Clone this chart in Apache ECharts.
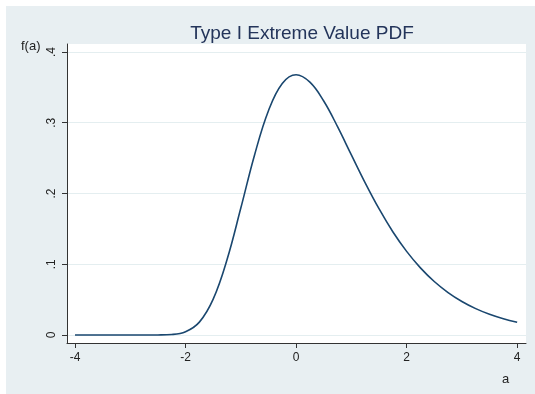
<!DOCTYPE html>
<html>
<head>
<meta charset="utf-8">
<script src="https://cdn.jsdelivr.net/npm/echarts@6/dist/echarts.min.js"></script>
<style>
  body { margin: 0; background: #fff; }
  #panel { position: absolute; left: 6px; top: 6px; width: 529px; height: 388px; background: #e8eff2; }
  #chart { position: absolute; left: 0; top: 0; width: 535px; height: 394px; }
</style>
</head>
<body>
<div id="panel"></div>
<div id="chart"></div>
<script>
// values, step .25
const aVals = [-4, -3.75, -3.5, -3.25, -3, -2.75, -2.5, -2.25, -2, -1.75, -1.5, -1.25, -1, -0.75, -0.5, -0.25,
  0, 0.25, 0.5, 0.75, 1, 1.25, 1.5, 1.75, 2, 2.25, 2.5, 2.75, 3, 3.25, 3.5, 3.75, 4]
const fVals = [0, 0, 0, 0, 0, 0, 0.0001, 0.0007, 0.0046, 0.0182, 0.0507, 0.1064, 0.1794, 0.2549, 0.3170, 0.3556,
  0.3679, 0.3574, 0.3307, 0.2945, 0.2546, 0.2151, 0.1785, 0.1460, 0.1182, 0.0949, 0.0756, 0.0600, 0.0474, 0.0373, 0.0293, 0.0230, 0.0180]

const xTicks = [-4, -2, 0, 2, 4]
const yTicks = [0, 0.1, 0.2, 0.3, 0.4]
const yTickLabels = ['0', '.1', '.2', '.3', '.4']

const myChart = echarts.init(document.getElementById('chart'))

const font = '"Liberation Sans", Arial, sans-serif'

const option = {
  backgroundColor: 'transparent',
  animation: false,
  title: [
    {
      text: 'Type I Extreme Value PDF',
      left: 297, top: 19, textAlign: 'center',
      textStyle: { fontFamily: font, fontSize: 19, fontWeight: 'normal', color: '#23345a' }
    },
    {
      text: 'f(a)', left: 16, top: 35,
      textStyle: { fontFamily: font, fontSize: 13, fontWeight: 'normal', color: '#222' }
    },
    {
      text: 'a', left: 497, top: 368,
      textStyle: { fontFamily: font, fontSize: 13, fontWeight: 'normal', color: '#222' }
    }
  ],
  grid: {
    left: 67, right: 9, top: 44, bottom: 51,
    show: true, backgroundColor: '#fff', borderWidth: 0
  },
  xAxis: {
    type: 'value',
    min: -4.145, max: 4.16,
    axisLine: { onZero: false, lineStyle: { color: '#333', width: 1 } },
    axisTick: { customValues: xTicks, length: 5, lineStyle: { color: '#333' } },
    axisLabel: {
      customValues: xTicks, margin: 9,
      fontFamily: font, fontSize: 12, color: '#222'
    },
    splitLine: { show: false }
  },
  yAxis: {
    type: 'value',
    min: -0.0113, max: 0.4113,
    axisLine: { show: true, onZero: false, lineStyle: { color: '#333', width: 1 } },
    axisTick: { show: true, customValues: yTicks, length: 5, lineStyle: { color: '#333' } },
    axisLabel: {
      customValues: yTicks, rotate: 90, margin: 9,
      fontFamily: font, fontSize: 12, color: '#222',
      formatter: function (v) {
        const i = yTicks.findIndex(t => Math.abs(t - v) < 1e-9)
        return i >= 0 ? yTickLabels[i] : ''
      }
    },
    splitLine: { show: true, lineStyle: { color: '#e4eef0', width: 1 } }
  },
  series: [
    {
      type: 'line',
      data: aVals.map((a, i) => [a, fVals[i]]),
      smooth: 0.4,
      showSymbol: false,
      lineStyle: { color: '#1a476f', width: 1.6 }
    }
  ]
}

myChart.setOption(option)
</script>
</body>
</html>
